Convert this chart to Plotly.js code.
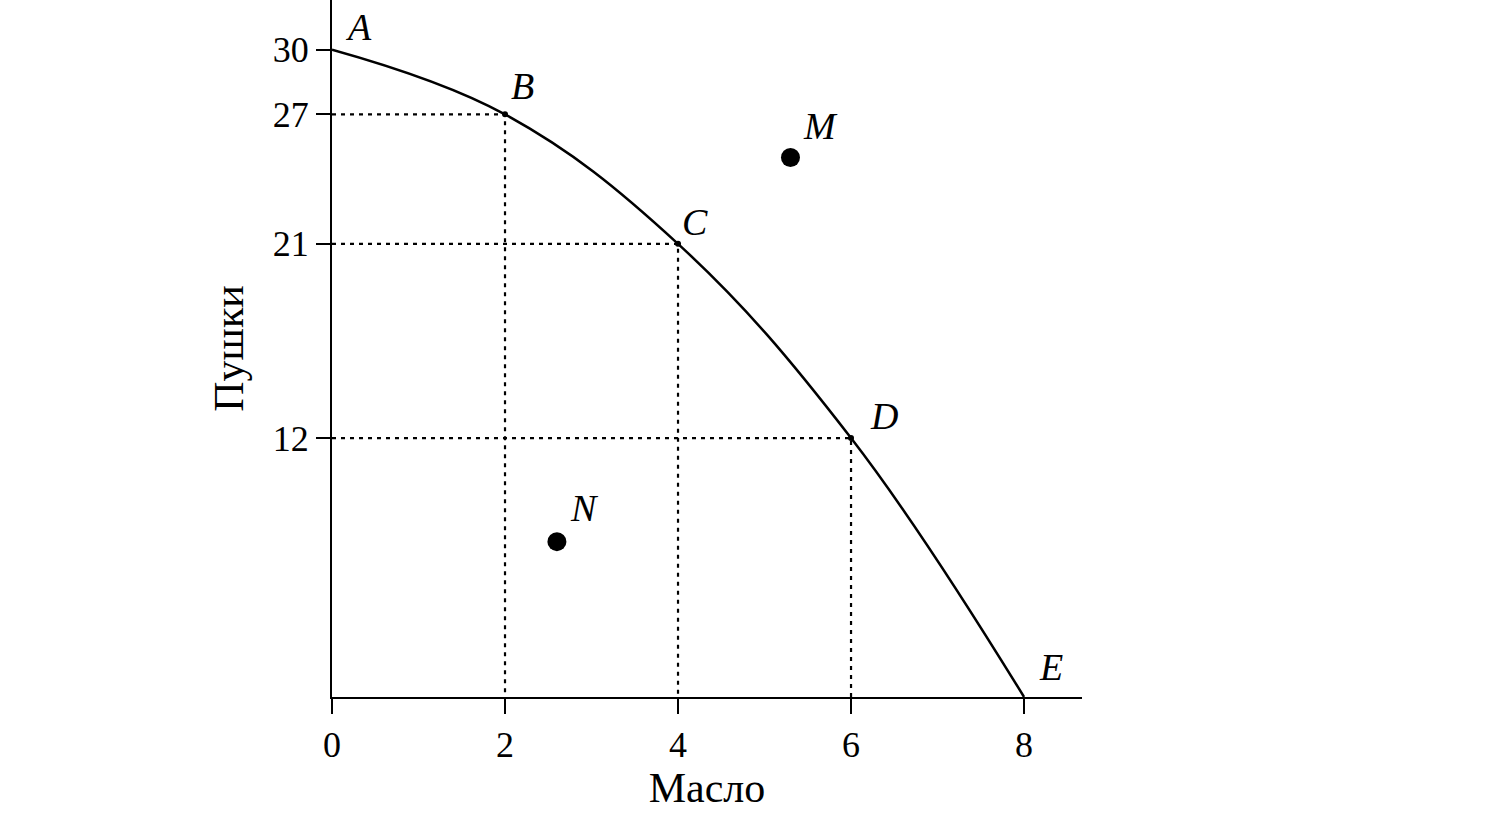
<!DOCTYPE html>
<html>
<head>
<meta charset="utf-8">
<script src="https://cdn.plot.ly/plotly-3.0.1.min.js"></script>
<style>html,body{margin:0;padding:0;background:#fff;}#chart{width:1500px;height:838px;}</style>
</head>
<body>
<div id="chart"></div>
<script>
// Production possibility frontier (labelled points)
const frontierLabels = ["A", "B", "C", "D", "E"];
const butter = [0, 2, 4, 6, 8];        // Масло
const guns = [30, 27, 21, 12, 0];      // Пушки

// Points off the frontier
const extraLabels = ["M", "N"];
const extraButter = [5.3, 2.6];
const extraGuns = [25, 7.2];

const xTicks = [0, 2, 4, 6, 8];
const yTicks = [12, 21, 27, 30];
const xTitle = "Масло";
const yTitle = "Пушки";

const serif = "Liberation Serif, Times New Roman, serif";
// label placement (pixels) relative to each point
const labelShift = {A: [12, 1], B: [5, 6], C: [3, 0], D: [18, 0], E: [14, 8], M: [12, 10], N: [12, 12]};

const traces = [];

// dotted guide lines for interior frontier points (B, C, D)
for (let i = 1; i < butter.length - 1; i++) {
  traces.push({
    x: [0, butter[i], butter[i]],
    y: [guns[i], guns[i], 0],
    mode: "lines",
    line: {color: "#000", width: 2.2, dash: "4px,5px"},
    hoverinfo: "skip", showlegend: false
  });
}

// frontier curve
traces.push({
  x: butter, y: guns,
  mode: "lines",
  line: {color: "#000", width: 2.5, shape: "spline", smoothing: 1.1},
  showlegend: false
});

// small dots on B, C, D
traces.push({
  x: butter.slice(1, 4), y: guns.slice(1, 4),
  mode: "markers",
  marker: {color: "#000", size: 6},
  showlegend: false
});

// M and N
traces.push({
  x: extraButter, y: extraGuns,
  mode: "markers",
  marker: {color: "#000", size: 19},
  showlegend: false
});

const annotations = [];
function addLabel(t, x, y) {
  const s = labelShift[t] || [8, 8];
  annotations.push({
    x: x, y: y, text: t, showarrow: false, borderpad: 0,
    xanchor: "left", yanchor: "bottom", xshift: s[0], yshift: s[1],
    font: {family: serif, size: 38, color: "#000", style: "italic"}
  });
}
frontierLabels.forEach((t, i) => addLabel(t, butter[i], guns[i]));
extraLabels.forEach((t, i) => addLabel(t, extraButter[i], extraGuns[i]));

const layout = {
  width: 1500, height: 838,
  paper_bgcolor: "#fff", plot_bgcolor: "#fff",
  margin: {l: 332, r: 418, t: 0, b: 141, pad: 0},
  showlegend: false,
  font: {family: serif, color: "#000"},
  xaxis: {
    range: [0, 8.67], tickvals: xTicks, ticktext: xTicks.map(String),
    showgrid: false, zeroline: false,
    showline: true, linecolor: "#000", linewidth: 2,
    ticks: "outside", ticklen: 15, tickwidth: 2, tickcolor: "#000",
    tickfont: {family: serif, size: 36, color: "#000"},
    title: {text: xTitle, font: {family: serif, size: 42, color: "#000"}, standoff: 6}
  },
  yaxis: {
    range: [0, 32.3], tickvals: yTicks, ticktext: yTicks.map(String),
    showgrid: false, zeroline: false,
    showline: true, linecolor: "#000", linewidth: 2,
    ticks: "outside", ticklen: 14, tickwidth: 2, tickcolor: "#000",
    tickfont: {family: serif, size: 36, color: "#000"},
    title: {text: yTitle, font: {family: serif, size: 42, color: "#000"}, standoff: 16}
  },
  annotations: annotations
};

Plotly.newPlot("chart", traces, layout, {displayModeBar: false, staticPlot: true});
</script>
</body>
</html>
